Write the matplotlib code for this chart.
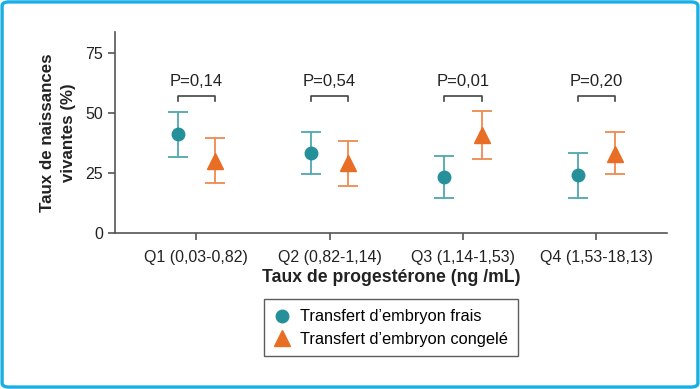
import matplotlib
matplotlib.use("Agg")
import matplotlib.pyplot as plt
from matplotlib.patches import FancyBboxPatch
from matplotlib.lines import Line2D

plt.rcParams['font.family'] = ['Liberation Sans', 'DejaVu Sans']

categories = ['Q1 (0,03-0,82)', 'Q2 (0,82-1,14)', 'Q3 (1,14-1,53)', 'Q4 (1,53-18,13)']
fresh = [41.3, 33.2, 23.3, 24.2]
fresh_low = [31.8, 24.4, 14.5, 14.5]
fresh_high = [50.5, 42.0, 32.1, 33.5]
frozen = [30.0, 29.0, 40.8, 33.0]
frozen_low = [20.7, 19.6, 31.0, 24.4]
frozen_high = [39.7, 38.3, 51.0, 42.0]
p_values = ['P=0,14', 'P=0,54', 'P=0,01', 'P=0,20']

teal = '#26909A'
orange = '#E96E25'
teal_light = '#4FA7AE'
orange_light = '#EE8A4E'

fig = plt.figure(figsize=(7, 3.89), dpi=100)
ax = fig.add_axes([0.164, 0.401, 0.789, 0.517])

x = [1, 2, 3, 4]
off = 0.14
xf = [v - off for v in x]
xz = [v + off for v in x]

ax.errorbar(xf, fresh, yerr=[[m - l for m, l in zip(fresh, fresh_low)],
                             [h - m for m, h in zip(fresh, fresh_high)]],
            fmt='none', ecolor=teal_light, elinewidth=1.3, capsize=7, capthick=1.3)
ax.errorbar(xz, frozen, yerr=[[m - l for m, l in zip(frozen, frozen_low)],
                              [h - m for m, h in zip(frozen, frozen_high)]],
            fmt='none', ecolor=orange_light, elinewidth=1.3, capsize=7, capthick=1.3)
ax.plot(xf, fresh, 'o', color=teal, markersize=9, linestyle='none', zorder=3)
ax.plot(xz, frozen, '^', color=orange, markersize=11, linestyle='none', zorder=3)

# brackets with p-values
for a, b, p in zip(xf, xz, p_values):
    ax.plot([a, a, b, b], [54.8, 56.9, 56.9, 54.8], color='#444444', lw=1.2)
    ax.text((a + b) / 2, 63.0, p, ha='center', va='center', fontsize=12, color='#222222')

ax.set_xlim(0.39, 4.53)
ax.set_ylim(0, 83.8)
ax.set_yticks([0, 25, 50, 75])
ax.set_xticks(x)
ax.set_xticklabels(categories)
ax.tick_params(axis='both', labelsize=11.5, colors='#555555', labelcolor='#222222',
               length=5, width=1.2, direction='out')
ax.tick_params(axis='x', pad=7)
for s in ['top', 'right']:
    ax.spines[s].set_visible(False)
for s in ['left', 'bottom']:
    ax.spines[s].set_color('#555555')
    ax.spines[s].set_linewidth(1.2)

ax.set_xlabel('Taux de progestérone (ng /mL)', fontsize=12.7, fontweight='bold', color='#222222', labelpad=3)
ax.set_ylabel('Taux de naissances\nvivantes (%)', fontsize=12.2, fontweight='bold', color='#222222',
              labelpad=7, linespacing=1.45)

handles = [
    Line2D([], [], marker='o', color=teal, linestyle='none', markersize=9),
    Line2D([], [], marker='^', color=orange, linestyle='none', markersize=11),
]
leg = fig.legend(handles, ['Transfert d\u2019embryon frais', 'Transfert d\u2019embryon congelé'],
                 loc='center', bbox_to_anchor=(0.5590, 0.157), fontsize=11.8, frameon=True,
                 fancybox=False, edgecolor='#333333', handlelength=1.0, handletextpad=0.6,
                 borderpad=0.6, labelspacing=0.45)
leg.get_frame().set_linewidth(1.0)

border = FancyBboxPatch((0.003, 0.005), 0.994, 0.99, boxstyle='round,pad=0,rounding_size=0.01',
                        transform=fig.transFigure, fill=False, edgecolor='#19AEE6', linewidth=2.4)
fig.patches.append(border)

fig.savefig('out.png', dpi=100)
